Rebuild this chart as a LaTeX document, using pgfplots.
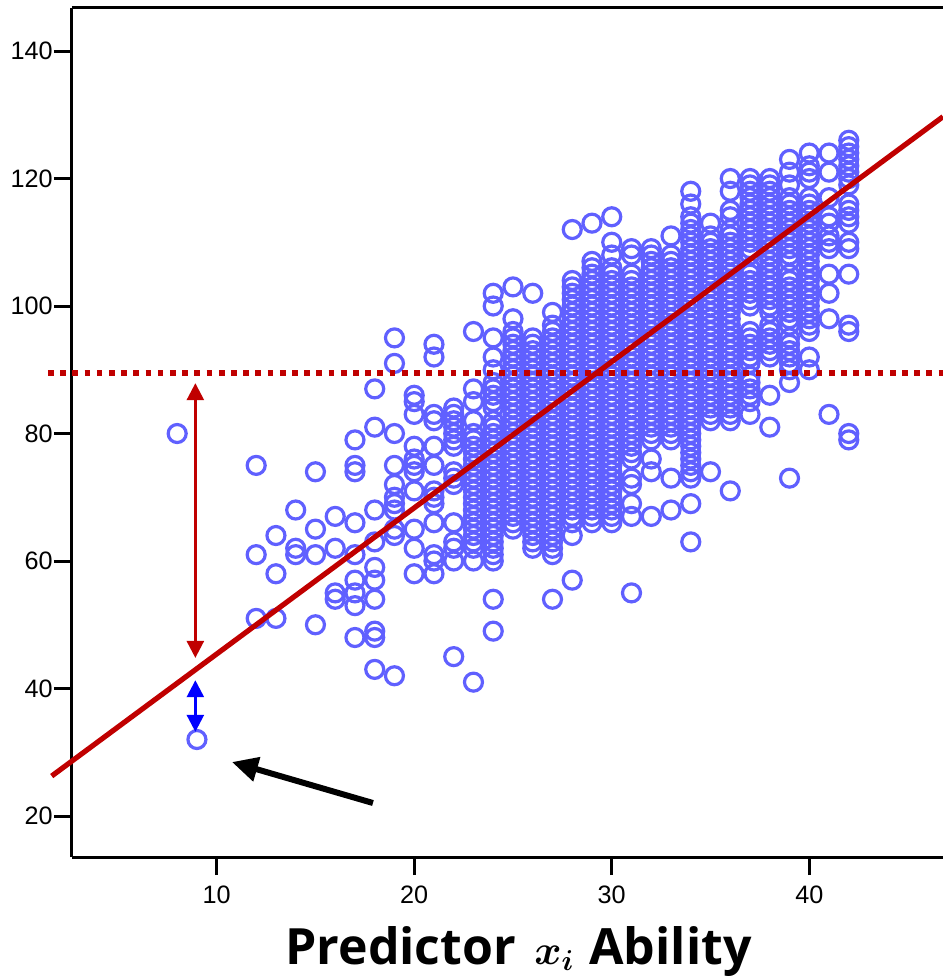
\documentclass[border=0pt]{standalone}
\usepackage{pgfplots}
\pgfplotsset{compat=1.18}
\usepackage{bm}
\usepackage{fontspec}
\setmainfont{Liberation Sans}
\setsansfont{Open Sans}
\usetikzlibrary{arrows.meta}

\definecolor{ptblue}{RGB}{96,96,255}
\definecolor{fitred}{RGB}{192,0,0}

\tikzset{
  dbl/.style={<->, >={Triangle[width=8.5pt,length=8.5pt]}},
  sgl/.style={->, >={Triangle[width=12pt,length=13pt]}},
}

\begin{document}
\begin{tikzpicture}
\begin{axis}[
  scale only axis, width=435.5pt, height=424.5pt,
  xmin=2.675, xmax=46.77, ymin=13.57, ymax=146.75,
  axis lines*=left,
  xtick={10,20,30,40}, ytick={20,40,60,80,100,120,140},
  tick align=outside, major tick length=9pt,
  axis line style={line width=1.5pt},
  tick style={line width=1.5pt, black},
  tick label style={font=\fontsize{12.6}{15}\selectfont},
  yticklabel style={inner xsep=0.5pt},
  xticklabel style={yshift=-1.8pt},
  /pgf/number format/assume math mode=true,
  clip=false, clip mode=individual,
]
% raw scores, one line per ability value
\addplot[only marks, mark=o, mark size=4.5pt, ptblue, mark options={line width=1.6pt}] coordinates {
(8,80)(9,32)
(12,75)(12,61)(12,51)
(13,64)(13,58)(13,51)
(14,68)(14,62)(14,61)
(15,74)(15,65)(15,61)(15,50)
(16,67)(16,62)(16,55)(16,54)
(17,79)(17,75)(17,74)(17,66)(17,61)(17,57)(17,55)(17,53)(17,48)
(18,87)(18,81)(18,68)(18,63)(18,59)(18,57)(18,54)(18,49)(18,48)(18,43)
(19,95)(19,91)(19,80)(19,75)(19,72)(19,70)(19,69)(19,68)(19,65)(19,64)(19,42)
(20,86)(20,85)(20,83)(20,78)(20,76)(20,75)(20,74)(20,71)(20,65)(20,62)(20,58)
(21,94)(21,92)(21,83)(21,82)(21,78)(21,75)(21,71)(21,70)(21,69)(21,66)(21,61)(21,60)(21,58)
(22,84)(22,83)(22,82)(22,81)(22,80)(22,79)(22,78)(22,74)(22,73)(22,72)(22,66)(22,63)(22,62)(22,60)(22,45)
(23,96)(23,87)(23,85)(23,82)(23,80)(23,79)(23,78)(23,77)(23,76)(23,75)(23,74)(23,73)(23,72)(23,71)(23,70)(23,69)(23,68)(23,67)(23,66)(23,65)(23,64)(23,63)(23,62)(23,60)(23,41)
(24,102)(24,100)(24,95)(24,92)(24,90)(24,88)(24,87)(24,86)(24,85)(24,84)(24,82)(24,81)(24,80)(24,79)(24,78)(24,77)(24,76)(24,75)(24,74)(24,73)(24,72)(24,71)(24,70)(24,69)(24,68)(24,67)(24,66)(24,65)(24,64)(24,63)(24,62)(24,61)(24,60)(24,54)(24,49)
(25,103)(25,98)(25,96)(25,95)(25,94)(25,93)(25,92)(25,91)(25,90)(25,89)(25,88)(25,87)(25,86)(25,85)(25,84)(25,83)(25,82)(25,81)(25,80)(25,79)(25,78)(25,77)(25,76)(25,75)(25,74)(25,73)(25,72)(25,71)(25,70)(25,69)(25,68)(25,67)(25,66)(25,65)
(26,102)(26,95)(26,94)(26,93)(26,92)(26,91)(26,90)(26,89)(26,88)(26,87)(26,86)(26,85)(26,84)(26,83)(26,82)(26,81)(26,80)(26,79)(26,78)(26,77)(26,76)(26,75)(26,74)(26,73)(26,72)(26,71)(26,70)(26,69)(26,68)(26,67)(26,66)(26,65)(26,64)(26,63)(26,62)
(27,99)(27,97)(27,96)(27,95)(27,94)(27,93)(27,92)(27,91)(27,90)(27,89)(27,88)(27,87)(27,86)(27,85)(27,84)(27,83)(27,82)(27,81)(27,80)(27,79)(27,78)(27,77)(27,76)(27,75)(27,74)(27,73)(27,72)(27,71)(27,70)(27,69)(27,68)(27,67)(27,66)(27,65)(27,64)(27,63)(27,62)(27,61)(27,54)
(28,112)(28,104)(28,103)(28,102)(28,101)(28,100)(28,99)(28,98)(28,97)(28,96)(28,95)(28,94)(28,93)(28,92)(28,91)(28,90)(28,89)(28,88)(28,87)(28,86)(28,85)(28,84)(28,83)(28,82)(28,81)(28,80)(28,79)(28,78)(28,77)(28,76)(28,75)(28,74)(28,73)(28,72)(28,71)(28,70)(28,69)(28,68)(28,67)(28,66)(28,64)(28,57)
(29,113)(29,107)(29,106)(29,105)(29,104)(29,103)(29,102)(29,101)(29,100)(29,99)(29,98)(29,97)(29,96)(29,95)(29,94)(29,93)(29,92)(29,91)(29,90)(29,89)(29,88)(29,87)(29,86)(29,85)(29,84)(29,83)(29,82)(29,81)(29,80)(29,79)(29,78)(29,77)(29,76)(29,75)(29,74)(29,73)(29,72)(29,71)(29,70)(29,69)(29,68)(29,67)(29,66)
(30,114)(30,110)(30,108)(30,106)(30,105)(30,104)(30,103)(30,102)(30,101)(30,100)(30,99)(30,98)(30,97)(30,96)(30,95)(30,94)(30,93)(30,92)(30,91)(30,90)(30,89)(30,88)(30,87)(30,86)(30,85)(30,84)(30,83)(30,82)(30,81)(30,80)(30,79)(30,78)(30,77)(30,76)(30,75)(30,74)(30,73)(30,72)(30,71)(30,70)(30,69)(30,68)(30,67)(30,66)
(31,109)(31,108)(31,105)(31,104)(31,103)(31,102)(31,101)(31,100)(31,99)(31,98)(31,97)(31,96)(31,95)(31,94)(31,93)(31,92)(31,91)(31,90)(31,89)(31,88)(31,87)(31,86)(31,85)(31,84)(31,83)(31,82)(31,81)(31,80)(31,79)(31,78)(31,77)(31,76)(31,73)(31,72)(31,69)(31,67)(31,55)
(32,109)(32,108)(32,107)(32,106)(32,105)(32,104)(32,103)(32,102)(32,101)(32,100)(32,99)(32,98)(32,97)(32,96)(32,95)(32,94)(32,93)(32,92)(32,91)(32,90)(32,89)(32,88)(32,87)(32,86)(32,85)(32,84)(32,83)(32,82)(32,81)(32,80)(32,79)(32,76)(32,74)(32,67)
(33,111)(33,108)(33,107)(33,106)(33,105)(33,104)(33,103)(33,102)(33,101)(33,100)(33,99)(33,98)(33,97)(33,96)(33,95)(33,94)(33,93)(33,92)(33,91)(33,90)(33,89)(33,88)(33,87)(33,86)(33,85)(33,84)(33,83)(33,82)(33,81)(33,80)(33,79)(33,73)(33,68)
(34,118)(34,116)(34,114)(34,113)(34,112)(34,111)(34,110)(34,109)(34,108)(34,107)(34,106)(34,105)(34,104)(34,103)(34,102)(34,101)(34,100)(34,99)(34,98)(34,97)(34,96)(34,95)(34,94)(34,93)(34,92)(34,91)(34,90)(34,89)(34,88)(34,87)(34,86)(34,85)(34,84)(34,83)(34,82)(34,81)(34,80)(34,79)(34,78)(34,77)(34,76)(34,75)(34,74)(34,73)(34,69)(34,63)
(35,113)(35,111)(35,110)(35,109)(35,108)(35,107)(35,106)(35,105)(35,104)(35,103)(35,102)(35,101)(35,100)(35,99)(35,98)(35,97)(35,96)(35,95)(35,94)(35,93)(35,92)(35,91)(35,90)(35,89)(35,88)(35,87)(35,86)(35,85)(35,84)(35,83)(35,82)(35,74)
(36,120)(36,118)(36,115)(36,114)(36,112)(36,111)(36,110)(36,109)(36,108)(36,107)(36,106)(36,105)(36,104)(36,103)(36,102)(36,101)(36,100)(36,99)(36,98)(36,97)(36,96)(36,95)(36,94)(36,93)(36,92)(36,91)(36,90)(36,89)(36,88)(36,87)(36,86)(36,85)(36,84)(36,83)(36,82)(36,71)
(37,120)(37,119)(37,118)(37,117)(37,116)(37,115)(37,114)(37,113)(37,112)(37,111)(37,110)(37,109)(37,108)(37,106)(37,105)(37,104)(37,103)(37,102)(37,101)(37,100)(37,96)(37,95)(37,94)(37,93)(37,92)(37,91)(37,89)(37,88)(37,87)(37,86)(37,85)(37,83)
(38,120)(38,119)(38,118)(38,117)(38,116)(38,115)(38,114)(38,113)(38,112)(38,111)(38,110)(38,109)(38,108)(38,107)(38,106)(38,105)(38,104)(38,103)(38,102)(38,101)(38,100)(38,99)(38,97)(38,96)(38,95)(38,94)(38,93)(38,92)(38,86)(38,81)
(39,123)(39,121)(39,119)(39,117)(39,116)(39,115)(39,114)(39,113)(39,112)(39,111)(39,110)(39,109)(39,108)(39,107)(39,105)(39,104)(39,103)(39,102)(39,101)(39,100)(39,99)(39,98)(39,97)(39,95)(39,94)(39,93)(39,92)(39,91)(39,90)(39,88)(39,73)
(40,124)(40,122)(40,121)(40,120)(40,117)(40,116)(40,115)(40,114)(40,113)(40,112)(40,111)(40,110)(40,109)(40,108)(40,107)(40,106)(40,105)(40,104)(40,103)(40,102)(40,101)(40,100)(40,99)(40,98)(40,97)(40,96)(40,92)(40,90)
(41,124)(41,121)(41,117)(41,114)(41,113)(41,111)(41,110)(41,109)(41,105)(41,102)(41,98)(41,83)
(42,126)(42,125)(42,124)(42,123)(42,122)(42,121)(42,120)(42,119)(42,116)(42,115)(42,114)(42,113)(42,110)(42,109)(42,105)(42,97)(42,96)(42,80)(42,79)
};
% mean of criterion
\addplot[fitred, line width=2.85pt, dash pattern=on 2.85pt off 3.25pt, mark=none] coordinates {(1.46,89.45) (46.77,89.45)};
% regression line
\addplot[fitred, line width=2.6pt, mark=none] coordinates {(1.647,26.27) (46.77,129.70)};
% deviations for the lowest case
\addplot[fitred, line width=1.3pt, mark=none, dbl] coordinates {(8.92,44.8) (8.92,87.9)};
\addplot[blue, line width=1.3pt, mark=none, dbl] coordinates {(8.92,33.2) (8.92,41.3)};
\addplot[black, line width=3pt, mark=none, sgl] coordinates {(17.91,22.04) (10.77,28.47)};
% top frame line
\draw[line width=1.5pt] (rel axis cs:0,1) -- (rel axis cs:1,1);
\end{axis}
% axis title, set in three pieces
\node[anchor=base west, inner sep=0pt, font=\sffamily\bfseries\fontsize{25}{30}\selectfont] at ([xshift=106.5pt,yshift=-53.5pt]current axis.south west) {Predictor};
\node[anchor=base west, inner sep=0pt, font=\fontsize{22}{30}\selectfont] at ([xshift=231pt,yshift=-53.5pt]current axis.south west) {$\bm{x}_{\bm{i}}$};
\node[anchor=base west, inner sep=0pt, font=\sffamily\bfseries\fontsize{25}{30}\selectfont] at ([xshift=258.5pt,yshift=-53.5pt]current axis.south west) {Ability};
\pgfresetboundingbox
\path ([xshift=-36pt,yshift=-59.5pt]current axis.south west) rectangle ([yshift=4pt]current axis.north east);
\end{tikzpicture}
\end{document}
